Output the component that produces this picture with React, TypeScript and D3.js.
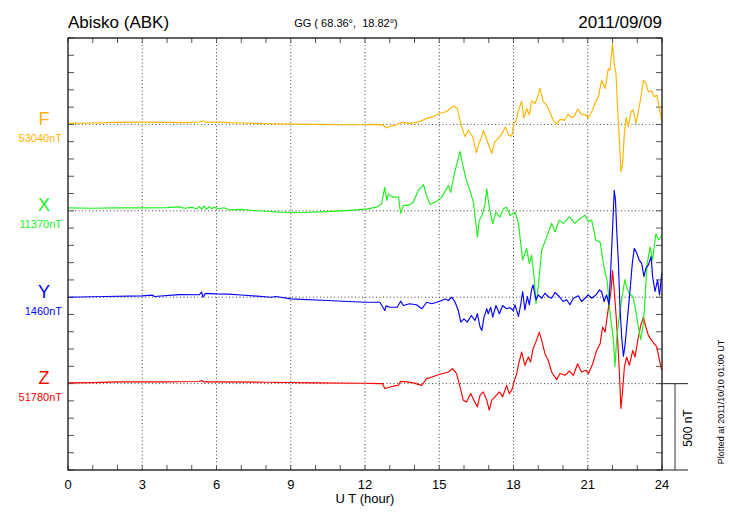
import * as d3 from 'd3';

// components, stacked top to bottom, with the baseline value printed under each name
const components = ['F', 'X', 'Y', 'Z'];
const baselineLabels = ['53040nT', '11370nT', '1460nT', '51780nT'];
const componentColors = ['#ffb400', '#1ef01e', '#0000ff', '#ff0000'];
const baselineOffsets = [2000, 1500, 1000, 500]; // nT position of each trace's zero on the stacked axis

const hourTicks = [0, 3, 6, 9, 12, 15, 18, 21, 24];

// deviations from baseline (nT)
const fTimes = [0, 1, 2, 3, 4, 4.8, 5.3, 5.45, 5.6, 6, 6.5, 7, 8, 9, 10, 11, 12, 12.5, 12.75, 12.85, 13.0, 13.2, 13.5, 13.8, 14.1, 14.3, 14.5, 14.7, 15.0, 15.3, 15.57, 15.73, 15.84, 15.95, 16.04, 16.17, 16.25, 16.35, 16.5, 16.6, 16.7, 16.78, 16.85, 16.92, 17.12, 17.25, 17.35, 17.45, 17.58, 17.68, 17.8, 17.93, 18.02, 18.1, 18.2, 18.33, 18.42, 18.53, 18.64, 18.73, 18.87, 18.95, 19.07, 19.2, 19.3, 19.4, 19.5, 19.6, 19.74, 19.88, 20.08, 20.21, 20.3, 20.42, 20.59, 20.75, 20.93, 21.02, 21.16, 21.33, 21.43, 21.56, 21.7, 21.83, 21.9, 22.0, 22.07, 22.14, 22.21, 22.28, 22.34, 22.41, 22.48, 22.55, 22.64, 22.75, 22.84, 22.95, 23.04, 23.14, 23.25, 23.35, 23.45, 23.58, 23.68, 23.79, 23.88, 24.0];
const fValues = [6, 8, 12, 13, 12, 10, 14, 20, 12, 14, 10, 8, 4, 2, 0, -2, -2, 0, -4, -20, -12, -6, 12, 6, 12, 22, 35, 42, 63, 75, 107, 92, 25, -33, -71, -33, -50, -71, -164, -110, -80, -37, -60, -90, -167, -100, -85, -71, -40, -14, -62, -68, 6, 20, 80, 134, 35, 92, 54, 136, 121, 150, 208, 131, 120, 92, 60, 25, 2, 29, 25, 60, 45, 40, 88, 58, 54, 35, 73, 131, 160, 256, 208, 323, 313, 467, 352, 294, 83, -90, -273, -225, -52, 40, -14, 73, 83, 6, 73, 150, 256, 237, 188, 194, 160, 169, 101, 15];

const xTimes = [0, 1, 2, 3, 4, 4.5, 4.7, 5.0, 5.2, 5.3, 5.4, 5.5, 5.6, 5.7, 5.8, 5.9, 6.1, 6.3, 6.5, 7, 7.5, 8.2, 8.6, 9.4, 10.2, 10.8, 11.5, 12.1, 12.47, 12.67, 12.8, 12.88, 12.94, 13.05, 13.14, 13.35, 13.44, 13.55, 13.75, 13.95, 14.15, 14.36, 14.49, 14.63, 14.9, 15.1, 15.37, 15.46, 15.64, 15.84, 15.97, 16.1, 16.24, 16.38, 16.48, 16.54, 16.62, 16.75, 16.85, 16.92, 17.02, 17.16, 17.29, 17.45, 17.59, 17.72, 17.86, 18.06, 18.2, 18.37, 18.53, 18.64, 18.73, 18.83, 18.91, 19.0, 19.14, 19.34, 19.54, 19.68, 19.85, 20.01, 20.26, 20.48, 20.69, 20.89, 21.02, 21.16, 21.33, 21.5, 21.63, 21.79, 21.9, 22.04, 22.1, 22.17, 22.26, 22.37, 22.5, 22.6, 22.71, 22.82, 22.91, 23.04, 23.14, 23.25, 23.31, 23.4, 23.52, 23.62, 23.75, 23.86, 23.99];
const xValues = [17, 15, 17, 17, 18, 23, 15, 20, 12, 26, 10, 28, 8, 24, 12, 20, 12, 18, 6, 8, 2, -4, -8, -10, -6, -2, 4, 11, 21, 40, 136, 60, 98, 85, 79, 79, -14, 31, 31, 50, 117, 152, 88, 36, 55, 79, 146, 107, 233, 344, 252, 175, 117, 50, -75, -152, -56, -17, 40, 127, 21, -75, -8, -37, 12, 21, -27, -8, -73, -285, -218, -306, -258, -383, -537, -441, -229, -152, -73, -121, -54, -73, -35, -73, -44, -25, -63, -54, -171, -181, -306, -412, -594, -748, -902, -740, -629, -514, -398, -456, -485, -495, -552, -668, -745, -652, -514, -306, -210, -285, -133, -169, -142];

const yTimes = [0, 1.5, 3, 3.4, 3.5, 4.5, 5.3, 5.4, 5.45, 5.55, 6, 6.5, 7, 8.2, 8.4, 9, 10.5, 12, 12.6, 12.8, 12.85, 13.0, 13.3, 13.44, 13.55, 13.8, 14.08, 14.3, 14.49, 14.7, 15.03, 15.23, 15.37, 15.5, 15.64, 15.77, 15.87, 16.0, 16.13, 16.3, 16.44, 16.54, 16.65, 16.72, 16.81, 16.92, 16.98, 17.08, 17.16, 17.29, 17.43, 17.56, 17.72, 17.86, 17.99, 18.06, 18.2, 18.3, 18.37, 18.46, 18.56, 18.64, 18.73, 18.79, 18.91, 19.0, 19.14, 19.27, 19.4, 19.54, 19.68, 19.85, 20.01, 20.15, 20.28, 20.42, 20.62, 20.75, 20.89, 21.02, 21.16, 21.33, 21.47, 21.56, 21.66, 21.76, 21.86, 21.94, 22.0, 22.07, 22.12, 22.17, 22.24, 22.3, 22.37, 22.44, 22.5, 22.6, 22.71, 22.8, 22.88, 22.98, 23.08, 23.18, 23.27, 23.35, 23.45, 23.56, 23.62, 23.72, 23.82, 23.9, 23.99];
const yValues = [0, 4, 8, 12, 4, 15, 14, 30, 0, 22, 19, 18, 13, 0, 4, -10, -19, -29, -29, -77, -50, -58, -58, -23, -48, -38, -44, -67, -29, -38, -23, -10, -19, 0, -29, -77, -144, -125, -144, -106, -135, -96, -173, -192, -115, -67, -96, -58, -115, -48, -96, -48, -67, -60, -77, -44, -111, -35, 33, -73, 4, -44, 42, 71, -15, 13, -6, 23, 4, -6, 27, 4, -25, -15, -44, -6, 8, -25, -6, 13, -6, 13, 42, 33, -25, 13, -44, 196, 388, 619, 562, 388, 196, -54, -227, -342, -285, -131, 42, 196, 283, 254, 215, 196, 119, 167, 187, 235, 119, 33, 100, 13, 139];

const zTimes = [0, 1, 2, 4, 5.3, 5.4, 5.5, 6, 8, 10, 12, 12.5, 12.7, 12.8, 12.94, 13.14, 13.35, 13.44, 13.68, 13.95, 14.29, 14.49, 14.7, 15.03, 15.37, 15.54, 15.7, 15.84, 15.97, 16.1, 16.27, 16.4, 16.54, 16.65, 16.78, 16.92, 17.02, 17.12, 17.25, 17.43, 17.56, 17.72, 17.83, 17.93, 18.04, 18.13, 18.2, 18.33, 18.46, 18.6, 18.69, 18.79, 18.93, 19.04, 19.14, 19.27, 19.4, 19.54, 19.74, 19.88, 20.08, 20.26, 20.42, 20.59, 20.75, 20.93, 21.03, 21.2, 21.36, 21.5, 21.6, 21.7, 21.83, 21.94, 22.0, 22.07, 22.14, 22.21, 22.28, 22.34, 22.41, 22.48, 22.57, 22.68, 22.82, 22.91, 23.02, 23.14, 23.25, 23.35, 23.45, 23.58, 23.68, 23.79, 23.9, 23.99];
const zValues = [4, 6, 10, 10, 12, 17, 10, 10, 8, 4, 2, 0, 0, -29, -23, -15, -10, 13, 10, 4, -10, 29, 38, 54, 67, 87, 58, -19, -96, -106, -58, -96, -135, -67, -48, -96, -154, -96, -77, -48, -77, -10, -58, -38, 19, 58, 110, 183, 106, 154, 125, 202, 250, 298, 250, 173, 135, 67, 23, 58, 48, 73, 48, 115, 67, 77, 58, 115, 192, 231, 327, 298, 433, 538, 654, 538, 404, 250, 58, -144, -38, 96, 154, 106, 192, 154, 250, 337, 385, 327, 279, 250, 231, 212, 135, 77];

const seriesTimes = [fTimes, xTimes, yTimes, zTimes];
const seriesValues = [fValues, xValues, yValues, zValues];
const drawOrder = [0, 3, 1, 2]; // F, Z, X, Y (blue ends up on top)

const W = 730;
const H = 520;
const left = 68, right = 662, top = 38, bottom = 470;
const font = '"Liberation Sans", Arial, Helvetica, sans-serif';

export default function App() {
  const x = d3.scaleLinear().domain([0, 24]).range([left, right]);
  const y = d3.scaleLinear().domain([0, 2500]).range([bottom, top]);

  const hours = d3.range(0, 25);
  const yTicks = d3.range(0, 2501, 100);

  const lines = drawOrder.map(i => {
    const pts = seriesTimes[i].map((t, k) => [t, seriesValues[i][k] + baselineOffsets[i]] as [number, number]);
    const path = d3.line<[number, number]>().x(d => x(d[0])).y(d => y(d[1]))(pts) ?? '';
    return <path key={components[i]} d={path} fill="none" stroke={componentColors[i]} strokeWidth={1.15} strokeLinejoin="round" />;
  });

  const dot = '1,2.5';
  const zBase = y(baselineOffsets[3]);

  return (
    <svg width={W} height={H} style={{ position: 'absolute', left: 0, top: 0, background: '#fff' }} fontFamily={font}>
      {/* titles */}
      <text x={left} y={28} fontSize={17}>Abisko (ABK)</text>
      <text x={346} y={27} fontSize={11} textAnchor="middle" style={{ whiteSpace: 'pre' }}>GG ( 68.36°,  18.82°)</text>
      <text x={right} y={28} fontSize={17} textAnchor="end">2011/09/09</text>

      {/* vertical dotted grid every 3 h */}
      {hourTicks.slice(1, -1).map(h => (
        <line key={'vg' + h} x1={x(h)} x2={x(h)} y1={top} y2={bottom} stroke="#444" strokeWidth={1} strokeDasharray={dot} />
      ))}
      {/* dotted baselines */}
      {baselineOffsets.map((b, i) => (
        <line key={'hb' + i} x1={left} x2={right} y1={y(b)} y2={y(b)} stroke="#444" strokeWidth={1} strokeDasharray={dot} />
      ))}

      {/* hourly ticks, top and bottom */}
      {hours.map(h => (
        <g key={'ht' + h} stroke="#555" strokeWidth={1}>
          <line x1={x(h)} x2={x(h)} y1={top} y2={top + 5} />
          <line x1={x(h)} x2={x(h)} y1={bottom} y2={bottom - 5} />
        </g>
      ))}
      {/* 100 nT ticks, left and right */}
      {yTicks.map(v => (
        <g key={'yt' + v} stroke="#555" strokeWidth={1}>
          <line x1={left} x2={left + 6} y1={y(v)} y2={y(v)} />
          <line x1={right} x2={right - 6} y1={y(v)} y2={y(v)} />
        </g>
      ))}

      {lines}

      {/* frame */}
      <rect x={left} y={top} width={right - left} height={bottom - top} fill="none" stroke="#222" strokeWidth={1.4} />

      {/* 500 nT scale bar */}
      <line x1={right} x2={688} y1={zBase} y2={zBase} stroke="#444" strokeWidth={1.2} />
      <line x1={right} x2={688} y1={bottom} y2={bottom} stroke="#444" strokeWidth={1.2} />
      <line x1={675} x2={675} y1={y(baselineOffsets[3])} y2={y(0)} stroke="#555" strokeWidth={1.2} />
      <text transform={`translate(692,428) rotate(-90)`} fontSize={12} textAnchor="middle">500 nT</text>
      <text transform={`translate(724,402) rotate(-90)`} fontSize={9} textAnchor="middle">Plotted at 2011/10/10 01:00 UT</text>

      {/* component labels */}
      {components.map((c, i) => (
        <g key={'lab' + c} fill={componentColors[i]}>
          <text x={44} y={y(baselineOffsets[i]) + 0.5} fontSize={18} textAnchor="middle">{c}</text>
          <text x={62} y={y(baselineOffsets[i]) + 17.5} fontSize={11} textAnchor="end">{baselineLabels[i]}</text>
        </g>
      ))}

      {/* x axis labels */}
      {hourTicks.map(h => (
        <text key={'xl' + h} x={x(h)} y={489} fontSize={13} textAnchor="middle">{h}</text>
      ))}
      <text x={365} y={503} fontSize={13} textAnchor="middle">U T (hour)</text>
    </svg>
  );
}
